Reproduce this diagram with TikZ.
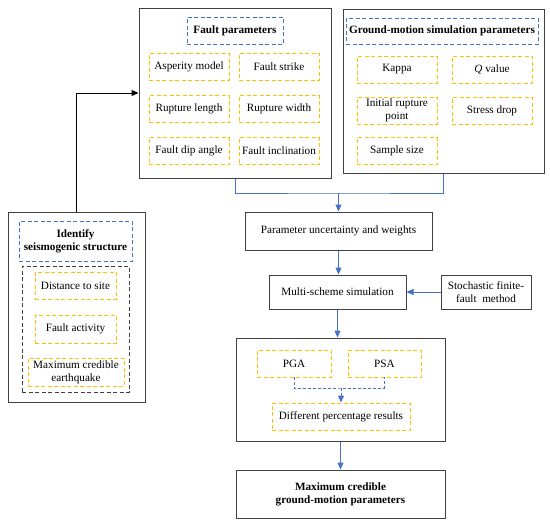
\documentclass[tikz,border=0pt]{standalone}
\usepackage{fontspec}
\setmainfont{Liberation Serif}
\usetikzlibrary{arrows.meta}
\definecolor{boxgray}{RGB}{64,64,64}
\definecolor{dashblue}{RGB}{68,114,196}
\definecolor{dashyellow}{RGB}{255,192,0}
\begin{document}
\begin{tikzpicture}[x=1pt, y=-1pt,
        font=\fontsize{11.2}{13}\selectfont,
        solidbox/.style={draw=boxgray, line width=1pt, rectangle, align=center, inner sep=1pt},
        headbox/.style={draw=dashblue, line width=0.9pt, dash pattern=on 4pt off 2.5pt, align=center, inner sep=1pt, font=\fontsize{11.2}{13}\selectfont\bfseries},
        itembox/.style={draw=dashyellow, line width=0.9pt, dash pattern=on 4pt off 2.5pt, align=center, inner sep=1pt},
        blueline/.style={draw=dashblue, line width=1pt},
        bluearrow/.style={blueline, -{Triangle[length=7pt,width=6pt]}}
    ]
    \useasboundingbox (0,0) rectangle (550,525);

    \begin{scope}[every node/.style={solidbox}]
        \node[minimum width=192, minimum height=170] (fbox) at (235,93) {};
        \node[minimum width=201, minimum height=164] (gbox) at (443.5,91) {};
        \node[minimum width=137, minimum height=190] (ibox) at (76.5,307) {};
        \node[minimum width=187, minimum height=38] (param) at (338.5,231) {Parameter uncertainty and weights};
        \node[minimum width=137, minimum height=34] (multi) at (337.5,292) {Multi-scheme simulation};
        \node[minimum width=90, minimum height=34] (stoch) at (486,292) {Stochastic finite-\\fault~~method};
        \node[minimum width=209, minimum height=103] (rbox) at (340.5,389.5) {};
        \node[minimum width=209, minimum height=48, font=\fontsize{11.2}{13}\selectfont\bfseries] (maxp) at (340.5,494) {Maximum credible\\ground-motion parameters};
    \end{scope}

    \node[headbox, minimum width=96, minimum height=27] (fhead) at (235,30.5) {Fault parameters};
    \node[headbox, minimum width=192, minimum height=26] (ghead) at (442,31) {Ground-motion simulation parameters};
    \node[headbox, minimum width=113, minimum height=40] (ihead) at (75.5,241) {Identify\\seismogenic structure};
    \node[draw=boxgray, line width=0.9pt, dash pattern=on 4pt off 2.5pt, minimum width=107, minimum height=126] (idash) at (75.5,329) {};

    \begin{scope}[every node/.style={itembox, minimum width=80, minimum height=27}]
        \node (asp) at (189,66.5) {Asperity model};
        \node (strike) at (279,66.5) {Fault strike};
        \node (rlen) at (189,109) {Rupture length};
        \node (rwid) at (279,109) {Rupture width};
        \node (dip) at (189,151) {Fault dip angle};
        \node (incl) at (279,151) {Fault inclination};

        \node (kappa) at (397,69.5) {Kappa};
        \node (qval) at (492,69.5) {\textit{Q} value};
        \node (init) at (397,110.5) {Initial rupture\\point};
        \node (stress) at (492,110.5) {Stress drop};
        \node (sample) at (397,151) {Sample size};

        \node[minimum width=81] (dist) at (75.5,285.5) {Distance to site};
        \node[minimum width=81, minimum height=28] (act) at (75.5,329) {Fault activity};
        \node[minimum width=96, minimum height=28] (mce) at (76,372) {Maximum credible\\earthquake};

        \node[minimum width=74] (pga) at (294,363.5) {PGA};
        \node[minimum width=73] (psa) at (384.5,363.5) {PSA};
        \node[minimum width=138] (diff) at (341,416.5) {Different percentage results};
    \end{scope}

    \coordinate (fj) at (338.5,193);
    \coordinate (rj) at (341,388);

    \draw[blueline] (fbox.south) |- (fj) -| (gbox.south);
    \draw[bluearrow] (fj) -- (param.north);
    \draw[bluearrow] (param.south) -- (param.south |- multi.north);
    \draw[bluearrow] (stoch.west) -- (multi.east);
    \draw[bluearrow] (multi.south) -- (multi.south |- rbox.north);
    \draw[blueline, dash pattern=on 3pt off 2pt] (pga.south) |- (rj) -| (psa.south);
    \draw[bluearrow, dash pattern=on 3pt off 2pt] (rj) -- (diff.north);
    \draw[bluearrow] (rbox.south) -- (maxp.north);

    \draw[draw=black, line width=1pt, -{Triangle[length=7pt,width=6pt]}] (ibox.north) |- (fbox.west);
\end{tikzpicture}
\end{document}
